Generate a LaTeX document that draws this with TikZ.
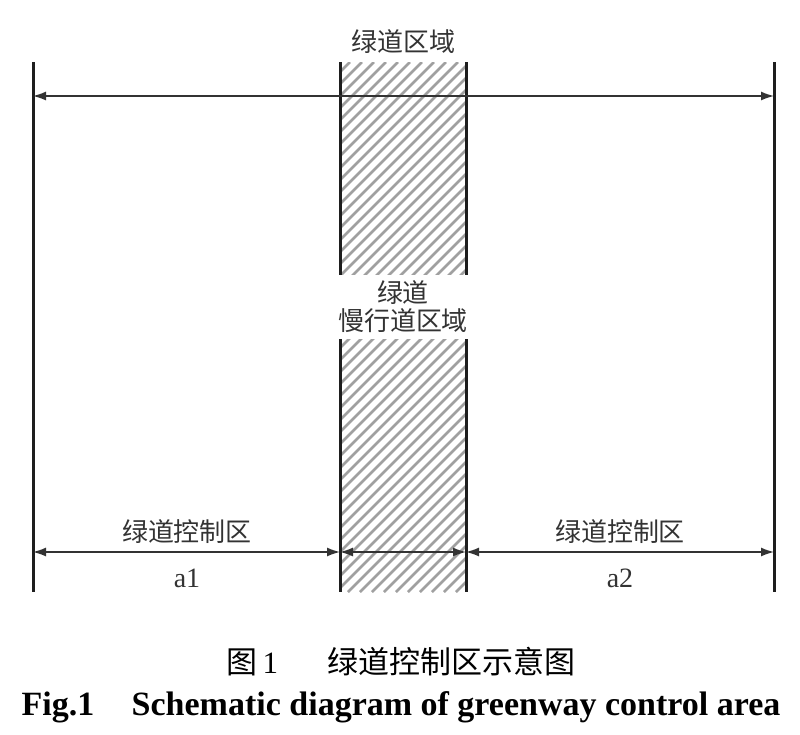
\documentclass[tikz,border=0pt]{standalone}
\usepackage{fontspec}
\setmainfont{Liberation Serif}
\newfontfamily\cjk{Noto Sans CJK SC}
\usetikzlibrary{arrows.meta}
\definecolor{ink}{HTML}{1E1E1E}
\definecolor{txt}{HTML}{333333}
\definecolor{hatchgray}{HTML}{A0A0A0}
\tikzset{
  bound/.style={draw=ink, line width=1.5pt},
  dim/.style={draw=txt, line width=0.7pt, {Latex[length=6.5pt,width=4.5pt]}-{Latex[length=6.5pt,width=4.5pt]}},
  hatch/.style={draw=hatchgray, line width=1.4pt},
  lab/.style={text=txt, font=\cjk\fontsize{13}{15}\selectfont, inner sep=0pt},
  labr/.style={text=txt, font=\fontsize{14}{16}\selectfont, inner sep=0pt},
  captxt/.style={text=black, font=\fontsize{15.5}{18}\selectfont, inner sep=0pt},
}

\begin{document}
\begin{tikzpicture}[x=0.5pt, y=-0.5pt]
  \useasboundingbox (0,0) rectangle (800,735);

  % band hatching
  \begin{scope}
    \clip (340,62) rectangle (466,592);
    \foreach \i in {-204,-192,...,470}
      \draw[hatch] (\i,592) -- ++(530,-530);
  \end{scope}

  \coordinate (lt) at (33,62);   \coordinate (lb) at (33,592);
  \coordinate (ml) at (340,62);  \coordinate (mlb) at (340,592);
  \coordinate (mr) at (466,62);  \coordinate (mrb) at (466,592);
  \coordinate (rt) at (774,62);  \coordinate (rb) at (774,592);

  \draw[bound] (lt) -- (lb);
  \draw[bound] (ml) -- (mlb);
  \draw[bound] (mr) -- (mrb);
  \draw[bound] (rt) -- (rb);

  \coordinate (topL) at (33,96);   \coordinate (topR) at (774,96);
  \coordinate (botL) at (33,552);  \coordinate (botML) at (340,552);
  \coordinate (botMR) at (466,552); \coordinate (botR) at (774,552);

  \draw[dim] (topL) -- (topR); % overall width
  \draw[dim] (botL) -- (botML);
  \draw[dim] (botML) -- (botMR);
  \draw[dim] (botMR) -- (botR);

  \node[lab] (zone) at (403,42) {绿道区域};
  \node[lab, fill=white, minimum width=67pt, minimum height=32pt, align=center] (path) at (403,307)
    {绿道\\[-1pt]慢行道区域};
  \node[lab] (ctrlL) at (187,532) {绿道控制区};
  \node[lab] (ctrlR) at (620,532) {绿道控制区};
  \node[labr] (a1) at (187,578) {a1};
  \node[labr] (a2) at (620,578) {a2};

  \node[captxt] (capcn) at (401,662) {{\cjk 图}\,1\hspace{1.6em}{\cjk 绿道控制区示意图}};
  \node[captxt, font=\bfseries\fontsize{17}{20}\selectfont] (capen) at (401,707)
    {Fig.1\hspace{1.1em}Schematic diagram of greenway control area};
\end{tikzpicture}
\end{document}
